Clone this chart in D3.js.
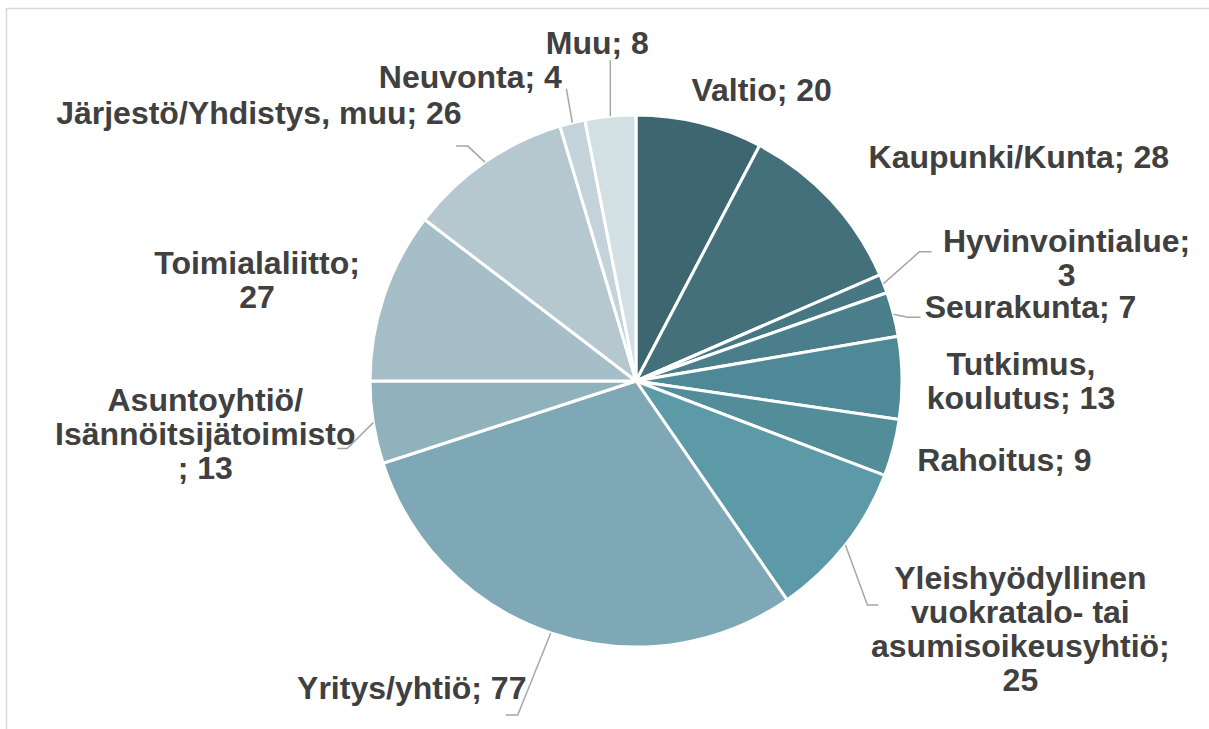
<!DOCTYPE html>
<html>
<head>
<meta charset="utf-8">
<script src="https://cdn.jsdelivr.net/npm/d3@7"></script>
<style>
  body { margin: 0; background: #fff; }
  svg { display: block; }
</style>
</head>
<body>
<div class="chart"></div>
<script>
// data
var categories = ['Valtio', 'Kaupunki/Kunta', 'Hyvinvointialue', 'Seurakunta', 'Tutkimus, koulutus',
  'Rahoitus', 'Yleishyödyllinen vuokratalo- tai asumisoikeusyhtiö', 'Yritys/yhtiö',
  'Asuntoyhtiö/Isännöitsijätoimisto', 'Toimialaliitto', 'Järjestö/Yhdistys, muu', 'Neuvonta', 'Muu'];
var values = [20, 28, 3, 7, 13, 9, 25, 77, 13, 27, 26, 4, 8];
var colors = ['#3e6670', '#43707b', '#467783', '#4a7e8a', '#4f8896', '#538d99', '#5c9aa8',
  '#7ea8b5', '#90b2bc', '#a5bec7', '#b5c8cf', '#c3d3d9', '#d2dfe3'];

// how Excel wrapped each label ({v} = value)
var labelLines = [
  ['Valtio; {v}'],
  ['Kaupunki/Kunta; {v}'],
  ['Hyvinvointialue;', '{v}'],
  ['Seurakunta; {v}'],
  ['Tutkimus,', 'koulutus; {v}'],
  ['Rahoitus; {v}'],
  ['Yleishyödyllinen', 'vuokratalo- tai', 'asumisoikeusyhtiö;', '{v}'],
  ['Yritys/yhtiö; {v}'],
  ['Asuntoyhtiö/', 'Isännöitsijätoimisto', '; {v}'],
  ['Toimialaliitto;', '{v}'],
  ['Järjestö/Yhdistys, muu; {v}'],
  ['Neuvonta; {v}'],
  ['Muu; {v}']
];

// layout: label centre offset from slice edge point, leader elbows
var labelOffset = [[62, -33], [188, -43], [183, -26], [137, -7], [119, 3], [111, 12], [175, 84],
  [-139, 55], [-168, 11], [-127, -16], [-226, -49], [-102, -46], [-13, -73]];
var leaders = [null, null, [[36, -32], [48, -32]], [[14, 3], [27, 3]], null, null, [[22, 60], [33, 60]],
  [[-33, 82], [-45, 82]], [[-26, 26], [-36, 26]], null, [[-17, -16], [-29, -16]], [[-6, -34]], [[0, -56]]];

var width = 1209, height = 729;
var cx = 636, cy = 381, radius = 266;
var fontSize = 32, lineH = 34;

var svg = d3.select('.chart').append('svg')
  .attr('width', width)
  .attr('height', height);

// chart frame
svg.append('rect')
  .attr('x', 6.5).attr('y', 8.5)
  .attr('width', 1240).attr('height', 760)
  .attr('fill', 'none')
  .attr('stroke', '#d9d9d9')
  .attr('stroke-width', 1.5);

var pie = d3.pie().sort(null).value(function(d) { return d; });
var arcs = pie(values);
var arc = d3.arc().innerRadius(0).outerRadius(radius);

var g = svg.append('g').attr('transform', 'translate(' + cx + ',' + cy + ')');

g.selectAll('path.slice')
  .data(arcs)
  .enter()
  .append('path')
  .attr('class', 'slice')
  .attr('d', arc)
  .attr('fill', function(d, i) { return colors[i]; })
  .attr('stroke', '#fff')
  .attr('stroke-width', 3)
  .attr('stroke-linejoin', 'round');

function edgePoint(d) {
  var a = (d.startAngle + d.endAngle) / 2;
  return [radius * Math.sin(a), -radius * Math.cos(a)];
}

// leader lines
g.selectAll('path.leader')
  .data(arcs.filter(function(d, i) { return leaders[i]; }))
  .enter()
  .append('path')
  .attr('class', 'leader')
  .attr('d', function(d) {
    var p = edgePoint(d);
    var pts = [p].concat(leaders[d.index].map(function(o) { return [p[0] + o[0], p[1] + o[1]]; }));
    return d3.line()(pts);
  })
  .attr('fill', 'none')
  .attr('stroke', '#a6a6a6')
  .attr('stroke-width', 1.5);

// labels
var labels = g.selectAll('text.lbl')
  .data(arcs)
  .enter()
  .append('text')
  .attr('class', 'lbl')
  .attr('text-anchor', 'middle')
  .attr('font-family', '"Liberation Sans", Arial, sans-serif')
  .attr('font-weight', 'bold')
  .attr('font-size', fontSize)
  .attr('fill', '#404040')
  .attr('transform', function(d) {
    var p = edgePoint(d), o = labelOffset[d.index];
    return 'translate(' + (p[0] + o[0]) + ',' + (p[1] + o[1]) + ')';
  });

labels.each(function(d) {
  var lines = labelLines[d.index];
  var t = d3.select(this);
  var y0 = -(lines.length - 1) * lineH / 2;
  lines.forEach(function(s, k) {
    t.append('tspan')
      .attr('x', 0)
      .attr('y', y0 + k * lineH)
      .attr('dy', '0.35em')
      .text(s.replace('{v}', values[d.index]));
  });
});
</script>
</body>
</html>
